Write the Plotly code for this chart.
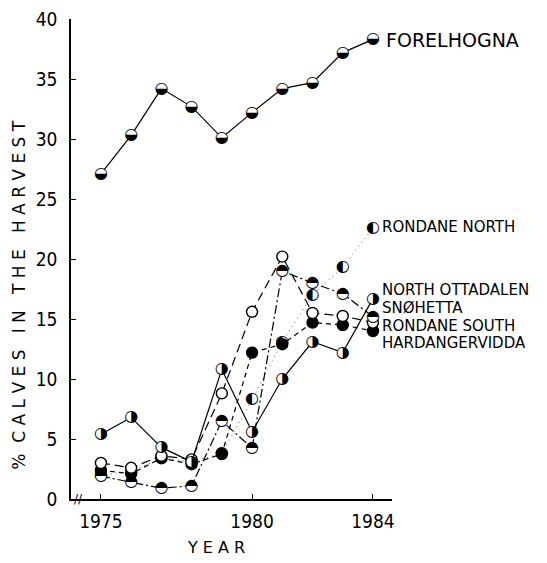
import plotly.graph_objects as go

years = [1975, 1976, 1977, 1978, 1979, 1980, 1981, 1982, 1983, 1984]
forelhogna = [27.1, 30.3, 34.2, 32.7, 30.1, 32.2, 34.2, 34.7, 37.2, 38.3]
north_ottadalen = [5.4, 6.8, 4.3, 3.1, 10.8, 5.6, 10.0, 13.1, 12.2, 16.7]
rondane_north = [2.0, 2.3, 3.4, 3.1, 3.8, 8.3, 13.1, 17.0, 19.3, 22.6]
snohetta = [3.0, 2.6, 3.6, 3.3, 8.8, 15.6, 20.2, 15.5, 15.25, 14.7]
rondane_south = [2.4, 2.1, 3.4, 2.9, 3.75, 12.2, 12.9, 14.7, 14.5, 14.0]
hardangervidda = [1.9, 1.4, 0.9, 1.1, 6.5, 4.25, 19.0, 18.0, 17.1, 15.2]

y_ticks = [0, 5, 10, 15, 20, 25, 30, 35, 40]
x_ticks = [1975, 1980, 1984]
x_ticklabels = ["1975", "1980", "1984"]

labels = ["FORELHOGNA", "RONDANE NORTH", "NORTH OTTADALEN", "SNØHETTA",
          "RONDANE SOUTH", "HARDANGERVIDDA"]
label_y = [38.25, 22.7, 17.4, 15.9, 14.4, 13.0]
label_size = [19, 15, 15, 15, 15, 15]
label_x = [1984.35, 1984.22, 1984.22, 1984.22, 1984.22, 1984.22]

FONT = "DejaVu Sans"
TICKFONT = "DejaVu Sans Condensed, Liberation Sans Narrow, Liberation Sans"

fig = go.Figure()


def half_series(name, vals, dash, glyph, width=1.2, lcolor="black"):
    fig.add_trace(go.Scatter(
        x=years, y=vals, name=name, mode="lines",
        line=dict(color=lcolor, width=width, dash=dash), showlegend=False))
    fig.add_trace(go.Scatter(
        x=years, y=vals, name=name, mode="markers+text",
        marker=dict(symbol="circle", size=11, color="white",
                    line=dict(width=0)),
        text=[glyph] * len(vals), textposition="middle center",
        textfont=dict(family="DejaVu Sans", size=16, color="black"),
        showlegend=False))


def plain_series(name, vals, dash, fill):
    fig.add_trace(go.Scatter(
        x=years, y=vals, name=name, mode="lines+markers",
        line=dict(color="black", width=1.2, dash=dash),
        marker=dict(symbol="circle", size=11,
                    color="black" if fill else "white",
                    line=dict(color="black", width=1.4)),
        showlegend=False))


half_series("FORELHOGNA", forelhogna, "solid", "◒")
half_series("RONDANE NORTH", rondane_north, "1px,4px", "◐", width=1.0, lcolor="#666666")
plain_series("RONDANE SOUTH", rondane_south, "5px,4px", True)
plain_series("SNØHETTA", snohetta, "9px,5px", False)
half_series("HARDANGERVIDDA", hardangervidda, "9px,3px,2px,3px", "◓")
half_series("NORTH OTTADALEN", north_ottadalen, "solid", "◑")

for t, xv, yv, sz in zip(labels, label_x, label_y, label_size):
    fig.add_annotation(x=xv, y=yv, text=t, showarrow=False,
                       xanchor="left", yanchor="middle",
                       font=dict(family=FONT, size=sz, color="black"))

# axis break mark
fig.add_annotation(x=1974.27, y=0, text="//", showarrow=False,
                   xanchor="center", yanchor="middle",
                   font=dict(family=FONT, size=12, color="black"))

# x-axis title
fig.add_annotation(x=1978.8, y=-0.102, yref="paper", text="Y E A R",
                   showarrow=False, xanchor="center", yanchor="middle",
                   font=dict(family=FONT, size=16, color="black"))

# y-axis title
fig.add_annotation(x=-0.163, xref="paper", y=0.425, yref="paper",
                   text="%  C A L V E S   I N   T H E   H A R V E S T",
                   textangle=-90, showarrow=False, xanchor="center", yanchor="middle",
                   font=dict(family=FONT, size=17, color="black"))

fig.update_layout(
    width=539, height=555,
    margin=dict(l=63, r=155, t=11, b=64, autoexpand=False),
    paper_bgcolor="white", plot_bgcolor="white",
    font=dict(family=FONT, color="black"),
    xaxis=dict(range=[1974.01, 1984.63], tickvals=x_ticks, ticktext=x_ticklabels,
               ticks="inside", ticklen=5, tickcolor="black", showgrid=False,
               zeroline=False, showline=True, linecolor="black", linewidth=1.5,
               automargin=False, ticklabeloverflow="allow",
               tickfont=dict(family=TICKFONT, size=19), ticklabelstandoff=4),
    yaxis=dict(range=[0, 40], tickvals=y_ticks, ticks="inside", ticklen=5,
               tickcolor="black", showgrid=False, zeroline=False, showline=True,
               linecolor="black", linewidth=1.5, automargin=False,
               ticklabeloverflow="allow",
               tickfont=dict(family=TICKFONT, size=19), ticklabelstandoff=8),
)

fig.write_html("out.html")
